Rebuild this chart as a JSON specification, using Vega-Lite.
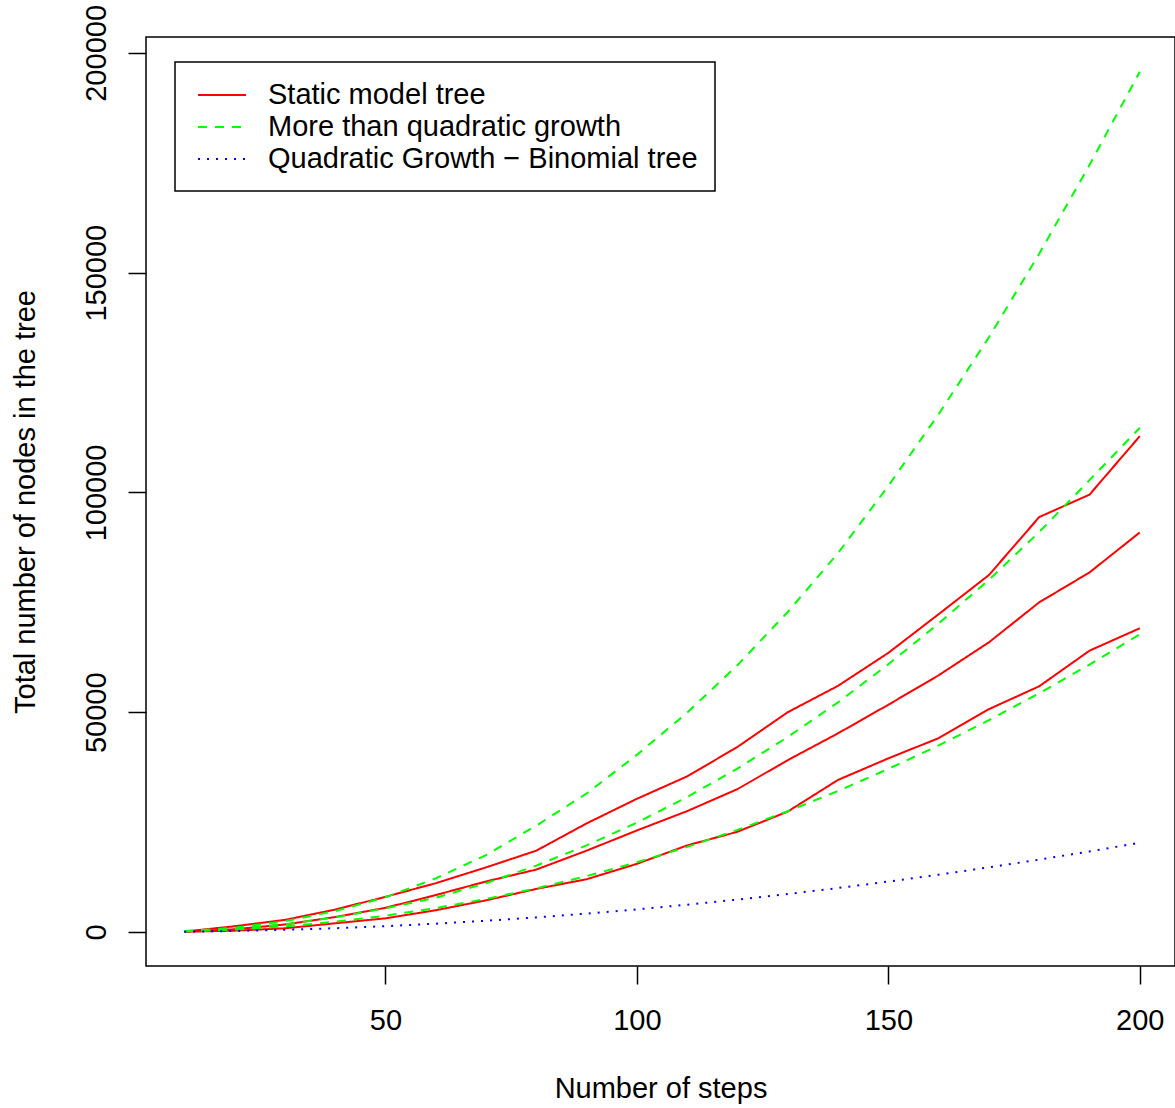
{
  "$schema": "https://vega.github.io/schema/vega-lite/v6.json",
  "autosize": {"type": "none"},
  "padding": {"left": 146, "top": 37, "right": 0, "bottom": 142},
  "width": 1029,
  "height": 929,
  "background": "white",
  "config": {
    "view": {"stroke": "black", "strokeWidth": 1.5},
    "font": "Liberation Sans",
    "axis": {
      "grid": false, "domain": false, "tickColor": "black", "tickWidth": 1.5, "tickSize": 18,
      "labelFont": "Liberation Sans", "labelFontSize": 29, "labelColor": "black",
      "titleFont": "Liberation Sans", "titleFontSize": 29, "titleColor": "black", "titleFontWeight": "normal"
    },
    "legend": {
      "orient": "none", "legendX": 29, "legendY": 25,
      "strokeColor": "black", "strokeWidth": 1.5, "fillColor": "white", "padding": 17,
      "labelFont": "Liberation Sans", "labelFontSize": 29, "labelColor": "black", "labelOffset": 44, "labelLimit": 1000,
      "symbolType": "M-0.667,0L2.533,0", "symbolSize": 900, "symbolStrokeWidth": 2, "rowPadding": 1
    }
  },
  "data": {"values": [
    {"steps":10,"nodes":100,"type":"Static model tree","curve":"r1"},
    {"steps":20,"nodes":1300,"type":"Static model tree","curve":"r1"},
    {"steps":30,"nodes":2750,"type":"Static model tree","curve":"r1"},
    {"steps":40,"nodes":5100,"type":"Static model tree","curve":"r1"},
    {"steps":50,"nodes":8000,"type":"Static model tree","curve":"r1"},
    {"steps":60,"nodes":11100,"type":"Static model tree","curve":"r1"},
    {"steps":70,"nodes":14700,"type":"Static model tree","curve":"r1"},
    {"steps":80,"nodes":18500,"type":"Static model tree","curve":"r1"},
    {"steps":90,"nodes":24700,"type":"Static model tree","curve":"r1"},
    {"steps":100,"nodes":30300,"type":"Static model tree","curve":"r1"},
    {"steps":110,"nodes":35400,"type":"Static model tree","curve":"r1"},
    {"steps":120,"nodes":42100,"type":"Static model tree","curve":"r1"},
    {"steps":130,"nodes":50000,"type":"Static model tree","curve":"r1"},
    {"steps":140,"nodes":56000,"type":"Static model tree","curve":"r1"},
    {"steps":150,"nodes":63500,"type":"Static model tree","curve":"r1"},
    {"steps":160,"nodes":72300,"type":"Static model tree","curve":"r1"},
    {"steps":170,"nodes":81200,"type":"Static model tree","curve":"r1"},
    {"steps":180,"nodes":94400,"type":"Static model tree","curve":"r1"},
    {"steps":190,"nodes":99500,"type":"Static model tree","curve":"r1"},
    {"steps":200,"nodes":112800,"type":"Static model tree","curve":"r1"},
    {"steps":10,"nodes":80,"type":"Static model tree","curve":"r2"},
    {"steps":20,"nodes":620,"type":"Static model tree","curve":"r2"},
    {"steps":30,"nodes":1700,"type":"Static model tree","curve":"r2"},
    {"steps":40,"nodes":3400,"type":"Static model tree","curve":"r2"},
    {"steps":50,"nodes":5500,"type":"Static model tree","curve":"r2"},
    {"steps":60,"nodes":8400,"type":"Static model tree","curve":"r2"},
    {"steps":70,"nodes":11500,"type":"Static model tree","curve":"r2"},
    {"steps":80,"nodes":14200,"type":"Static model tree","curve":"r2"},
    {"steps":90,"nodes":18500,"type":"Static model tree","curve":"r2"},
    {"steps":100,"nodes":23100,"type":"Static model tree","curve":"r2"},
    {"steps":110,"nodes":27500,"type":"Static model tree","curve":"r2"},
    {"steps":120,"nodes":32500,"type":"Static model tree","curve":"r2"},
    {"steps":130,"nodes":39100,"type":"Static model tree","curve":"r2"},
    {"steps":140,"nodes":45200,"type":"Static model tree","curve":"r2"},
    {"steps":150,"nodes":51700,"type":"Static model tree","curve":"r2"},
    {"steps":160,"nodes":58400,"type":"Static model tree","curve":"r2"},
    {"steps":170,"nodes":65900,"type":"Static model tree","curve":"r2"},
    {"steps":180,"nodes":75000,"type":"Static model tree","curve":"r2"},
    {"steps":190,"nodes":81800,"type":"Static model tree","curve":"r2"},
    {"steps":200,"nodes":90900,"type":"Static model tree","curve":"r2"},
    {"steps":10,"nodes":60,"type":"Static model tree","curve":"r3"},
    {"steps":20,"nodes":300,"type":"Static model tree","curve":"r3"},
    {"steps":30,"nodes":840,"type":"Static model tree","curve":"r3"},
    {"steps":40,"nodes":1980,"type":"Static model tree","curve":"r3"},
    {"steps":50,"nodes":3110,"type":"Static model tree","curve":"r3"},
    {"steps":60,"nodes":4950,"type":"Static model tree","curve":"r3"},
    {"steps":70,"nodes":7200,"type":"Static model tree","curve":"r3"},
    {"steps":80,"nodes":9800,"type":"Static model tree","curve":"r3"},
    {"steps":90,"nodes":12000,"type":"Static model tree","curve":"r3"},
    {"steps":100,"nodes":15500,"type":"Static model tree","curve":"r3"},
    {"steps":110,"nodes":19700,"type":"Static model tree","curve":"r3"},
    {"steps":120,"nodes":22800,"type":"Static model tree","curve":"r3"},
    {"steps":130,"nodes":27400,"type":"Static model tree","curve":"r3"},
    {"steps":140,"nodes":34600,"type":"Static model tree","curve":"r3"},
    {"steps":150,"nodes":39500,"type":"Static model tree","curve":"r3"},
    {"steps":160,"nodes":44100,"type":"Static model tree","curve":"r3"},
    {"steps":170,"nodes":50700,"type":"Static model tree","curve":"r3"},
    {"steps":180,"nodes":55900,"type":"Static model tree","curve":"r3"},
    {"steps":190,"nodes":64000,"type":"Static model tree","curve":"r3"},
    {"steps":200,"nodes":69100,"type":"Static model tree","curve":"r3"},
    {"steps":10,"nodes":200,"type":"More than quadratic growth","curve":"g1"},
    {"steps":20,"nodes":950,"type":"More than quadratic growth","curve":"g1"},
    {"steps":30,"nodes":2450,"type":"More than quadratic growth","curve":"g1"},
    {"steps":40,"nodes":4750,"type":"More than quadratic growth","curve":"g1"},
    {"steps":50,"nodes":7900,"type":"More than quadratic growth","curve":"g1"},
    {"steps":60,"nodes":12200,"type":"More than quadratic growth","curve":"g1"},
    {"steps":70,"nodes":17500,"type":"More than quadratic growth","curve":"g1"},
    {"steps":80,"nodes":24200,"type":"More than quadratic growth","curve":"g1"},
    {"steps":90,"nodes":31500,"type":"More than quadratic growth","curve":"g1"},
    {"steps":100,"nodes":40300,"type":"More than quadratic growth","curve":"g1"},
    {"steps":110,"nodes":49900,"type":"More than quadratic growth","curve":"g1"},
    {"steps":120,"nodes":60700,"type":"More than quadratic growth","curve":"g1"},
    {"steps":130,"nodes":72800,"type":"More than quadratic growth","curve":"g1"},
    {"steps":140,"nodes":86200,"type":"More than quadratic growth","curve":"g1"},
    {"steps":150,"nodes":101500,"type":"More than quadratic growth","curve":"g1"},
    {"steps":160,"nodes":117800,"type":"More than quadratic growth","curve":"g1"},
    {"steps":170,"nodes":135300,"type":"More than quadratic growth","curve":"g1"},
    {"steps":180,"nodes":154300,"type":"More than quadratic growth","curve":"g1"},
    {"steps":190,"nodes":174500,"type":"More than quadratic growth","curve":"g1"},
    {"steps":200,"nodes":195700,"type":"More than quadratic growth","curve":"g1"},
    {"steps":10,"nodes":155,"type":"More than quadratic growth","curve":"g2"},
    {"steps":20,"nodes":716,"type":"More than quadratic growth","curve":"g2"},
    {"steps":30,"nodes":1749,"type":"More than quadratic growth","curve":"g2"},
    {"steps":40,"nodes":3300,"type":"More than quadratic growth","curve":"g2"},
    {"steps":50,"nodes":5390,"type":"More than quadratic growth","curve":"g2"},
    {"steps":60,"nodes":7800,"type":"More than quadratic growth","curve":"g2"},
    {"steps":70,"nodes":11100,"type":"More than quadratic growth","curve":"g2"},
    {"steps":80,"nodes":15100,"type":"More than quadratic growth","curve":"g2"},
    {"steps":90,"nodes":19720,"type":"More than quadratic growth","curve":"g2"},
    {"steps":100,"nodes":24880,"type":"More than quadratic growth","curve":"g2"},
    {"steps":110,"nodes":30700,"type":"More than quadratic growth","curve":"g2"},
    {"steps":120,"nodes":37190,"type":"More than quadratic growth","curve":"g2"},
    {"steps":130,"nodes":44370,"type":"More than quadratic growth","curve":"g2"},
    {"steps":140,"nodes":52240,"type":"More than quadratic growth","curve":"g2"},
    {"steps":150,"nodes":60900,"type":"More than quadratic growth","curve":"g2"},
    {"steps":160,"nodes":70180,"type":"More than quadratic growth","curve":"g2"},
    {"steps":170,"nodes":80120,"type":"More than quadratic growth","curve":"g2"},
    {"steps":180,"nodes":90990,"type":"More than quadratic growth","curve":"g2"},
    {"steps":190,"nodes":102800,"type":"More than quadratic growth","curve":"g2"},
    {"steps":200,"nodes":114700,"type":"More than quadratic growth","curve":"g2"},
    {"steps":10,"nodes":127,"type":"More than quadratic growth","curve":"g3"},
    {"steps":20,"nodes":544,"type":"More than quadratic growth","curve":"g3"},
    {"steps":30,"nodes":1273,"type":"More than quadratic growth","curve":"g3"},
    {"steps":40,"nodes":2326,"type":"More than quadratic growth","curve":"g3"},
    {"steps":50,"nodes":3711,"type":"More than quadratic growth","curve":"g3"},
    {"steps":60,"nodes":5436,"type":"More than quadratic growth","curve":"g3"},
    {"steps":70,"nodes":7510,"type":"More than quadratic growth","curve":"g3"},
    {"steps":80,"nodes":9937,"type":"More than quadratic growth","curve":"g3"},
    {"steps":90,"nodes":12710,"type":"More than quadratic growth","curve":"g3"},
    {"steps":100,"nodes":15860,"type":"More than quadratic growth","curve":"g3"},
    {"steps":110,"nodes":19360,"type":"More than quadratic growth","curve":"g3"},
    {"steps":120,"nodes":23230,"type":"More than quadratic growth","curve":"g3"},
    {"steps":130,"nodes":27470,"type":"More than quadratic growth","curve":"g3"},
    {"steps":140,"nodes":32080,"type":"More than quadratic growth","curve":"g3"},
    {"steps":150,"nodes":37100,"type":"More than quadratic growth","curve":"g3"},
    {"steps":160,"nodes":42440,"type":"More than quadratic growth","curve":"g3"},
    {"steps":170,"nodes":48180,"type":"More than quadratic growth","curve":"g3"},
    {"steps":180,"nodes":54310,"type":"More than quadratic growth","curve":"g3"},
    {"steps":190,"nodes":60830,"type":"More than quadratic growth","curve":"g3"},
    {"steps":200,"nodes":67730,"type":"More than quadratic growth","curve":"g3"},
    {"steps":10,"nodes":66,"type":"Quadratic Growth − Binomial tree","curve":"b"},
    {"steps":20,"nodes":231,"type":"Quadratic Growth − Binomial tree","curve":"b"},
    {"steps":30,"nodes":496,"type":"Quadratic Growth − Binomial tree","curve":"b"},
    {"steps":40,"nodes":861,"type":"Quadratic Growth − Binomial tree","curve":"b"},
    {"steps":50,"nodes":1326,"type":"Quadratic Growth − Binomial tree","curve":"b"},
    {"steps":60,"nodes":1891,"type":"Quadratic Growth − Binomial tree","curve":"b"},
    {"steps":70,"nodes":2556,"type":"Quadratic Growth − Binomial tree","curve":"b"},
    {"steps":80,"nodes":3321,"type":"Quadratic Growth − Binomial tree","curve":"b"},
    {"steps":90,"nodes":4186,"type":"Quadratic Growth − Binomial tree","curve":"b"},
    {"steps":100,"nodes":5151,"type":"Quadratic Growth − Binomial tree","curve":"b"},
    {"steps":110,"nodes":6216,"type":"Quadratic Growth − Binomial tree","curve":"b"},
    {"steps":120,"nodes":7381,"type":"Quadratic Growth − Binomial tree","curve":"b"},
    {"steps":130,"nodes":8646,"type":"Quadratic Growth − Binomial tree","curve":"b"},
    {"steps":140,"nodes":10011,"type":"Quadratic Growth − Binomial tree","curve":"b"},
    {"steps":150,"nodes":11476,"type":"Quadratic Growth − Binomial tree","curve":"b"},
    {"steps":160,"nodes":13041,"type":"Quadratic Growth − Binomial tree","curve":"b"},
    {"steps":170,"nodes":14706,"type":"Quadratic Growth − Binomial tree","curve":"b"},
    {"steps":180,"nodes":16471,"type":"Quadratic Growth − Binomial tree","curve":"b"},
    {"steps":190,"nodes":18336,"type":"Quadratic Growth − Binomial tree","curve":"b"},
    {"steps":200,"nodes":20301,"type":"Quadratic Growth − Binomial tree","curve":"b"}
  ]},
  "mark": {"type": "line", "strokeWidth": 2, "clip": true},
  "encoding": {
    "x": {
      "field": "steps", "type": "quantitative",
      "scale": {"domain": [2.4, 207.0], "nice": false, "zero": false},
      "axis": {"values": [50, 100, 150, 200], "title": "Number of steps", "labelBaseline": "alphabetic", "labelPadding": 45, "titleY": 131, "titleBaseline": "alphabetic"}
    },
    "y": {
      "field": "nodes", "type": "quantitative",
      "scale": {"domain": [-7735, 203610], "nice": false, "zero": false},
      "axis": {"values": [0, 50000, 100000, 150000, 200000], "format": "d", "title": "Total number of nodes in the tree", "labelAngle": -90, "labelAlign": "center", "labelBaseline": "alphabetic", "labelPadding": 23, "titleX": -112, "titleBaseline": "alphabetic"}
    },
    "color": {
      "field": "type", "type": "nominal",
      "scale": {"domain": ["Static model tree", "More than quadratic growth", "Quadratic Growth − Binomial tree"], "range": ["#ff0000", "#00ff00", "#0000ff"]},
      "legend": {"title": null}
    },
    "strokeDash": {
      "field": "type", "type": "nominal",
      "scale": {"domain": ["Static model tree", "More than quadratic growth", "Quadratic Growth − Binomial tree"], "range": [[1, 0], [9, 8], [2, 7]]},
      "legend": {"title": null}
    },
    "detail": {"field": "curve"}
  }
}
